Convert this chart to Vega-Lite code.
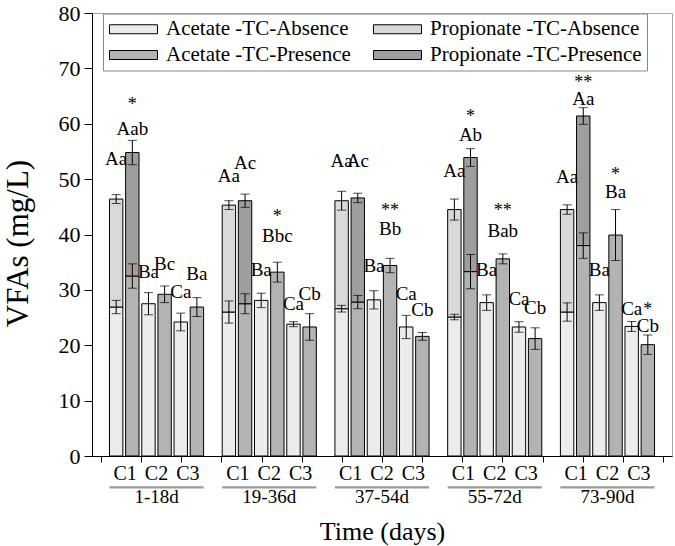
{
  "$schema": "https://vega.github.io/schema/vega-lite/v6.json",
  "width": 580,
  "height": 443,
  "autosize": {"type": "none"},
  "padding": {"left": 92, "top": 13, "right": 3, "bottom": 90},
  "background": "white",
  "config": {
    "view": {"stroke": "#a8a8a8", "strokeWidth": 1},
    "axis": {"labelFont": "Liberation Serif", "titleFont": "Liberation Serif", "labelColor": "black", "titleColor": "black", "titleFontWeight": "normal", "domainColor": "black", "tickColor": "black", "grid": false},
    "text": {"font": "Liberation Serif", "color": "black"}
  },
  "datasets": {
    "bars": [
      {"period": "1-18d", "bar": "C1 Absence", "series": "Acetate -TC-Absence", "bottom": 0, "top": 26.9, "sd": 1.2},
      {"period": "1-18d", "bar": "C1 Absence", "series": "Propionate -TC-Absence", "bottom": 26.9, "top": 46.4, "sd": 0.8},
      {"period": "1-18d", "bar": "C1 Presence", "series": "Acetate -TC-Presence", "bottom": 0, "top": 32.5, "sd": 2.2},
      {"period": "1-18d", "bar": "C1 Presence", "series": "Propionate -TC-Presence", "bottom": 32.5, "top": 54.8, "sd": 2.2},
      {"period": "1-18d", "bar": "C2 Absence", "series": "Acetate -TC-Absence", "bottom": 0, "top": 27.5, "sd": 2.0},
      {"period": "1-18d", "bar": "C2 Presence", "series": "Acetate -TC-Presence", "bottom": 0, "top": 29.2, "sd": 1.5},
      {"period": "1-18d", "bar": "C3 Absence", "series": "Acetate -TC-Absence", "bottom": 0, "top": 24.2, "sd": 1.6},
      {"period": "1-18d", "bar": "C3 Presence", "series": "Acetate -TC-Presence", "bottom": 0, "top": 26.9, "sd": 1.7},

      {"period": "19-36d", "bar": "C1 Absence", "series": "Acetate -TC-Absence", "bottom": 0, "top": 26.0, "sd": 2.0},
      {"period": "19-36d", "bar": "C1 Absence", "series": "Propionate -TC-Absence", "bottom": 26.0, "top": 45.3, "sd": 0.8},
      {"period": "19-36d", "bar": "C1 Presence", "series": "Acetate -TC-Presence", "bottom": 0, "top": 27.5, "sd": 1.8},
      {"period": "19-36d", "bar": "C1 Presence", "series": "Propionate -TC-Presence", "bottom": 27.5, "top": 46.1, "sd": 1.2},
      {"period": "19-36d", "bar": "C2 Absence", "series": "Acetate -TC-Absence", "bottom": 0, "top": 28.1, "sd": 1.3},
      {"period": "19-36d", "bar": "C2 Presence", "series": "Acetate -TC-Presence", "bottom": 0, "top": 33.2, "sd": 1.8},
      {"period": "19-36d", "bar": "C3 Absence", "series": "Acetate -TC-Absence", "bottom": 0, "top": 23.8, "sd": 0.45},
      {"period": "19-36d", "bar": "C3 Presence", "series": "Acetate -TC-Presence", "bottom": 0, "top": 23.3, "sd": 2.4},

      {"period": "37-54d", "bar": "C1 Absence", "series": "Acetate -TC-Absence", "bottom": 0, "top": 26.6, "sd": 0.6},
      {"period": "37-54d", "bar": "C1 Absence", "series": "Propionate -TC-Absence", "bottom": 26.6, "top": 46.1, "sd": 1.7},
      {"period": "37-54d", "bar": "C1 Presence", "series": "Acetate -TC-Presence", "bottom": 0, "top": 27.8, "sd": 1.2},
      {"period": "37-54d", "bar": "C1 Presence", "series": "Propionate -TC-Presence", "bottom": 27.8, "top": 46.6, "sd": 0.85},
      {"period": "37-54d", "bar": "C2 Absence", "series": "Acetate -TC-Absence", "bottom": 0, "top": 28.2, "sd": 1.65},
      {"period": "37-54d", "bar": "C2 Presence", "series": "Acetate -TC-Presence", "bottom": 0, "top": 34.4, "sd": 1.3},
      {"period": "37-54d", "bar": "C3 Absence", "series": "Acetate -TC-Absence", "bottom": 0, "top": 23.3, "sd": 2.1},
      {"period": "37-54d", "bar": "C3 Presence", "series": "Acetate -TC-Presence", "bottom": 0, "top": 21.6, "sd": 0.7},

      {"period": "55-72d", "bar": "C1 Absence", "series": "Acetate -TC-Absence", "bottom": 0, "top": 25.1, "sd": 0.5},
      {"period": "55-72d", "bar": "C1 Absence", "series": "Propionate -TC-Absence", "bottom": 25.1, "top": 44.5, "sd": 1.9},
      {"period": "55-72d", "bar": "C1 Presence", "series": "Acetate -TC-Presence", "bottom": 0, "top": 33.3, "sd": 3.1},
      {"period": "55-72d", "bar": "C1 Presence", "series": "Propionate -TC-Presence", "bottom": 33.3, "top": 53.9, "sd": 1.6},
      {"period": "55-72d", "bar": "C2 Absence", "series": "Acetate -TC-Absence", "bottom": 0, "top": 27.7, "sd": 1.4},
      {"period": "55-72d", "bar": "C2 Presence", "series": "Acetate -TC-Presence", "bottom": 0, "top": 35.6, "sd": 0.9},
      {"period": "55-72d", "bar": "C3 Absence", "series": "Acetate -TC-Absence", "bottom": 0, "top": 23.3, "sd": 0.95},
      {"period": "55-72d", "bar": "C3 Presence", "series": "Acetate -TC-Presence", "bottom": 0, "top": 21.2, "sd": 1.95},

      {"period": "73-90d", "bar": "C1 Absence", "series": "Acetate -TC-Absence", "bottom": 0, "top": 26.0, "sd": 1.65},
      {"period": "73-90d", "bar": "C1 Absence", "series": "Propionate -TC-Absence", "bottom": 26.0, "top": 44.5, "sd": 0.85},
      {"period": "73-90d", "bar": "C1 Presence", "series": "Acetate -TC-Presence", "bottom": 0, "top": 38.0, "sd": 2.3},
      {"period": "73-90d", "bar": "C1 Presence", "series": "Propionate -TC-Presence", "bottom": 38.0, "top": 61.4, "sd": 1.5},
      {"period": "73-90d", "bar": "C2 Absence", "series": "Acetate -TC-Absence", "bottom": 0, "top": 27.7, "sd": 1.4},
      {"period": "73-90d", "bar": "C2 Presence", "series": "Acetate -TC-Presence", "bottom": 0, "top": 39.9, "sd": 4.6},
      {"period": "73-90d", "bar": "C3 Absence", "series": "Acetate -TC-Absence", "bottom": 0, "top": 23.4, "sd": 0.9},
      {"period": "73-90d", "bar": "C3 Presence", "series": "Acetate -TC-Presence", "bottom": 0, "top": 20.1, "sd": 1.75}
    ],
    "notes": [
      {"period": "1-18d", "bar": "C1 Presence", "label": "*", "y": 63.4},
      {"period": "1-18d", "bar": "C1 Presence", "label": "Aab", "y": 59.0},
      {"period": "1-18d", "bar": "C1 Absence", "label": "Aa", "y": 53.6},
      {"period": "1-18d", "bar": "C2 Absence", "label": "Ba", "y": 33.2},
      {"period": "1-18d", "bar": "C2 Presence", "label": "Bc", "y": 34.7},
      {"period": "1-18d", "bar": "C3 Absence", "label": "Ca", "y": 29.6},
      {"period": "1-18d", "bar": "C3 Presence", "label": "Ba", "y": 32.9},

      {"period": "19-36d", "bar": "C1 Absence", "label": "Aa", "y": 50.6},
      {"period": "19-36d", "bar": "C1 Presence", "label": "Ac", "y": 53.0},
      {"period": "19-36d", "bar": "C2 Presence", "label": "*", "y": 43.1},
      {"period": "19-36d", "bar": "C2 Presence", "label": "Bbc", "y": 39.8},
      {"period": "19-36d", "bar": "C2 Absence", "label": "Ba", "y": 33.5},
      {"period": "19-36d", "bar": "C3 Absence", "label": "Ca", "y": 27.5},
      {"period": "19-36d", "bar": "C3 Presence", "label": "Cb", "y": 29.2},

      {"period": "37-54d", "bar": "C1 Absence", "label": "Aa", "y": 53.3},
      {"period": "37-54d", "bar": "C1 Presence", "label": "Ac", "y": 53.3},
      {"period": "37-54d", "bar": "C2 Presence", "label": "**", "y": 44.2},
      {"period": "37-54d", "bar": "C2 Presence", "label": "Bb", "y": 41.0},
      {"period": "37-54d", "bar": "C2 Absence", "label": "Ba", "y": 34.4},
      {"period": "37-54d", "bar": "C3 Absence", "label": "Ca", "y": 29.3},
      {"period": "37-54d", "bar": "C3 Presence", "label": "Cb", "y": 26.3},

      {"period": "55-72d", "bar": "C1 Presence", "label": "*", "y": 61.3},
      {"period": "55-72d", "bar": "C1 Presence", "label": "Ab", "y": 58.0},
      {"period": "55-72d", "bar": "C1 Absence", "label": "Aa", "y": 51.5},
      {"period": "55-72d", "bar": "C2 Presence", "label": "**", "y": 44.2},
      {"period": "55-72d", "bar": "C2 Presence", "label": "Bab", "y": 40.7},
      {"period": "55-72d", "bar": "C2 Absence", "label": "Ba", "y": 33.5},
      {"period": "55-72d", "bar": "C3 Absence", "label": "Ca", "y": 28.4},
      {"period": "55-72d", "bar": "C3 Presence", "label": "Cb", "y": 26.8},

      {"period": "73-90d", "bar": "C1 Presence", "label": "**", "y": 67.3},
      {"period": "73-90d", "bar": "C1 Presence", "label": "Aa", "y": 64.5},
      {"period": "73-90d", "bar": "C1 Absence", "label": "Aa", "y": 50.4},
      {"period": "73-90d", "bar": "C2 Presence", "label": "*", "y": 50.8},
      {"period": "73-90d", "bar": "C2 Presence", "label": "Ba", "y": 47.6},
      {"period": "73-90d", "bar": "C2 Absence", "label": "Ba", "y": 33.5},
      {"period": "73-90d", "bar": "C3 Absence", "label": "Ca", "y": 26.6},
      {"period": "73-90d", "bar": "C3 Presence", "label": "*", "y": 26.4},
      {"period": "73-90d", "bar": "C3 Presence", "label": "Cb", "y": 23.5}
    ],
    "slots": [
      {"period": "1-18d", "cond": "C1", "slot": "1-18d C1"},
      {"period": "1-18d", "cond": "C2", "slot": "1-18d C2"},
      {"period": "1-18d", "cond": "C3", "slot": "1-18d C3"},
      {"period": "19-36d", "cond": "C1", "slot": "19-36d C1"},
      {"period": "19-36d", "cond": "C2", "slot": "19-36d C2"},
      {"period": "19-36d", "cond": "C3", "slot": "19-36d C3"},
      {"period": "37-54d", "cond": "C1", "slot": "37-54d C1"},
      {"period": "37-54d", "cond": "C2", "slot": "37-54d C2"},
      {"period": "37-54d", "cond": "C3", "slot": "37-54d C3"},
      {"period": "55-72d", "cond": "C1", "slot": "55-72d C1"},
      {"period": "55-72d", "cond": "C2", "slot": "55-72d C2"},
      {"period": "55-72d", "cond": "C3", "slot": "55-72d C3"},
      {"period": "73-90d", "cond": "C1", "slot": "73-90d C1"},
      {"period": "73-90d", "cond": "C2", "slot": "73-90d C2"},
      {"period": "73-90d", "cond": "C3", "slot": "73-90d C3"}
    ]
  },
  "layer": [
    {
      "layer": [
        {
          "data": {"name": "bars"},
          "mark": {"type": "bar", "stroke": "black", "strokeWidth": 1},
          "encoding": {
            "x": {"field": "period", "type": "nominal", "title": "Time (days)",
              "scale": {"domain": ["1-18d", "19-36d", "37-54d", "55-72d", "73-90d"], "paddingInner": 0.165, "paddingOuter": 0.155},
              "axis": {"orient": "bottom", "ticks": false, "labelAngle": 0, "labelFontSize": 19, "labelPadding": 31, "titleFontSize": 26, "titlePadding": 12}},
            "xOffset": {"field": "bar", "type": "nominal",
              "scale": {"domain": ["C1 Absence", "C1 Presence", "C2 Absence", "C2 Presence", "C3 Absence", "C3 Presence"], "paddingInner": 0.17, "paddingOuter": 0}},
            "y": {"field": "top", "type": "quantitative", "title": "VFAs (mg/L)",
              "scale": {"domain": [0, 80], "nice": false},
              "axis": {"values": [0, 5, 10, 15, 20, 25, 30, 35, 40, 45, 50, 55, 60, 65, 70, 75, 80],
                "labelExpr": "datum.value % 10 === 0 ? datum.label : ''",
                "tickSize": {"condition": {"test": "datum.value % 10 === 0", "value": 8}, "value": 4},
                "labelFontSize": 22, "labelPadding": 4, "titleFontSize": 31, "titlePadding": 24, "titleY": 230}},
            "y2": {"field": "bottom"},
            "color": {"field": "series", "type": "nominal",
              "scale": {"domain": ["Acetate -TC-Absence", "Acetate -TC-Presence", "Propionate -TC-Absence", "Propionate -TC-Presence"],
                "range": ["#ececec", "#b3b3b3", "#d9d9d9", "#9e9e9e"]},
              "legend": {"orient": "none", "legendX": 11, "legendY": 0.5, "columns": 2, "title": null,
                "labelFont": "Liberation Serif", "labelFontSize": 21, "labelColor": "black", "labelLimit": 400,
                "symbolType": "M-1,-0.5H4.333V0.5H-1Z", "symbolSize": 324, "symbolStrokeColor": "black", "symbolStrokeWidth": 1,
                "labelOffset": 37, "columnPadding": 20, "rowPadding": 4, "padding": 5,
                "strokeColor": "#888888", "fillColor": "white"}}
          }
        },
        {
          "data": {"name": "bars"},
          "mark": {"type": "errorbar", "ticks": {"size": 9}, "color": "black", "thickness": 1},
          "encoding": {
            "x": {"field": "period", "type": "nominal", "title": "Time (days)"},
            "xOffset": {"field": "bar", "type": "nominal",
              "scale": {"domain": ["C1 Absence", "C1 Presence", "C2 Absence", "C2 Presence", "C3 Absence", "C3 Presence"], "paddingInner": 0.17, "paddingOuter": 0}},
            "y": {"field": "top", "type": "quantitative", "title": "VFAs (mg/L)"},
            "yError": {"field": "sd"}
          }
        },
        {
          "data": {"name": "notes"},
          "mark": {"type": "text", "baseline": "middle", "align": "center", "font": "Liberation Serif", "color": "black"},
          "encoding": {
            "x": {"field": "period", "type": "nominal", "title": "Time (days)"},
            "xOffset": {"field": "bar", "type": "nominal",
              "scale": {"type": "point", "domain": ["C1 Absence", "C1 Presence", "C2 Absence", "C2 Presence", "C3 Absence", "C3 Presence"], "padding": 0.415}},
            "y": {"field": "y", "type": "quantitative", "title": "VFAs (mg/L)"},
            "text": {"field": "label"},
            "size": {"condition": {"test": "indexof(datum.label, '*') >= 0", "value": 18}, "value": 19}
          }
        },
        {
          "data": {"name": "slots"},
          "mark": {"type": "text", "baseline": "middle", "align": "center", "font": "Liberation Serif", "fontSize": 20, "color": "black"},
          "encoding": {
            "x": {"field": "period", "type": "nominal", "title": "Time (days)"},
            "xOffset": {"field": "cond", "type": "nominal", "scale": {"type": "point", "domain": ["C1", "C2", "C3"], "padding": 0.5}},
            "y": {"datum": -3.3, "type": "quantitative", "title": "VFAs (mg/L)"},
            "text": {"field": "cond"}
          }
        },
        {
          "data": {"name": "slots"},
          "transform": [{"filter": "datum.cond === 'C2'"}],
          "mark": {"type": "bar", "color": "#9a9a9a"},
          "encoding": {
            "x": {"field": "period", "type": "nominal", "title": "Time (days)"},
            "y": {"datum": -5.45, "type": "quantitative", "title": "VFAs (mg/L)"},
            "y2": {"datum": -5.85}
          }
        }
      ],
      "resolve": {"scale": {"xOffset": "independent"}}
    },
    {
      "data": {"name": "slots"},
      "mark": {"type": "point", "opacity": 0},
      "encoding": {
        "x": {"field": "slot", "type": "nominal",
          "scale": {"type": "point", "padding": 0.22, "domain": ["1-18d C1", "1-18d C2", "1-18d C3", "19-36d C1", "19-36d C2", "19-36d C3", "37-54d C1", "37-54d C2", "37-54d C3", "55-72d C1", "55-72d C2", "55-72d C3", "73-90d C1", "73-90d C2", "73-90d C3"]},
          "axis": {"orient": "bottom", "labels": false, "domain": false, "ticks": true, "tickSize": 6, "title": null}}
      }
    }
  ],
  "resolve": {"scale": {"x": "independent"}, "axis": {"x": "independent"}}
}
